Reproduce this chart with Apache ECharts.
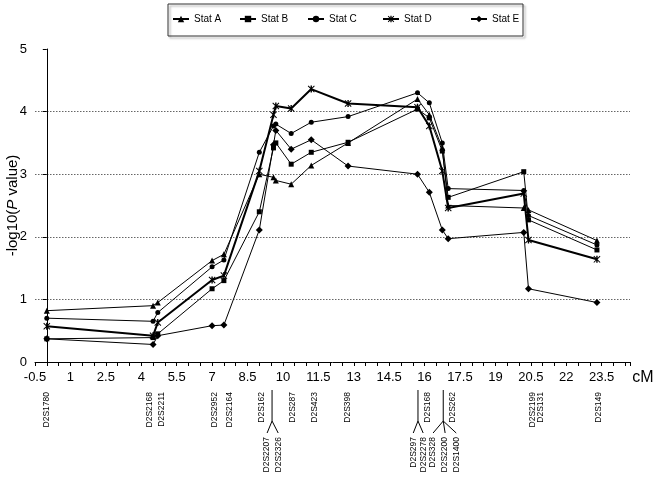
<!DOCTYPE html>
<html><head><meta charset="utf-8">
<script src="https://cdn.jsdelivr.net/npm/echarts@6/dist/echarts.min.js"></script>
<style>html,body{margin:0;padding:0;background:#fff}#c{width:653px;height:477px}</style>
</head><body><div id="c"></div>
<script>
// ---- data ----
const positions = [0, 4.5, 4.7, 7.0, 7.5, 9.0, 9.6, 9.7, 10.35, 11.2, 12.76, 15.7, 16.2, 16.75, 17.0, 20.2, 20.4, 23.3];
const statA = [0.82,0.90,0.95,1.62,1.72,3.00,2.95,2.90,2.84,3.14,3.50,4.20,3.95,3.42,2.50,2.46,2.43,1.94];
const statB = [0.37,0.39,0.45,1.17,1.30,2.40,3.42,3.50,3.16,3.35,3.51,4.04,3.90,3.37,2.63,3.04,2.27,1.79];
const statC = [0.70,0.65,0.79,1.52,1.63,3.35,3.77,3.80,3.65,3.83,3.92,4.30,4.14,3.50,2.77,2.74,2.34,1.87];
const statD = [0.57,0.42,0.63,1.31,1.38,3.05,3.95,4.09,4.05,4.36,4.13,4.07,3.77,3.05,2.46,2.69,1.95,1.64];
const statE = [0.37,0.28,0.42,0.58,0.59,2.11,3.47,3.70,3.40,3.55,3.13,3.00,2.71,2.11,1.97,2.07,1.17,0.95];
const seriesNames = ['Stat A','Stat B','Stat C','Stat D','Stat E'];
const xMin = -0.5, xMax = 24.7, xStep = 1.5;
const yMin = 0, yMax = 5, yStep = 1;
const xUnit = 'cM';
const upperMarkers = ['D2S1780','D2S2168','D2S2211','D2S2952','D2S2164','D2S162','D2S287','D2S423','D2S398','D2S168','D2S262','D2S2199','D2S131','D2S149'];
const upperMarkerPos = [0.01,4.37,4.88,7.13,7.76,9.12,10.43,11.36,12.76,16.11,17.21,20.56,20.9,23.36];
const clusterStems = [9.54, 15.72, 16.79];
const clusterMarkers = [['D2S2207','D2S2326'],['D2S297','D2S2278'],['D2S328','D2S2200','D2S1400']];
const clusterMarkerPos = [[9.33,9.80],[15.52,15.94],[16.36,16.87,17.34]];

// ---- styling ----
const FF = '"Liberation Sans", Arial, sans-serif';
const starPath = 'path://M4,0 L6,0 L6,10 L4,10 Z M0,1 L1,0 L10,9 L9,10 Z M9,0 L10,1 L1,10 L0,9 Z';
const symbols = ['triangle','rect','circle',starPath,'diamond'];
const symSizes = [6,5,5,7,7];
const lineWidths = [1,1,1,2,1];
const allData = [statA, statB, statC, statD, statE];
const legendLeft = [172, 239, 307, 382, 470];

const chart = echarts.init(document.getElementById('c'), null, {renderer:'canvas'});
const option = {
  animation: false,
  backgroundColor: '#fff',
  grid: {left: 35, right: 23, top: 49, bottom: 115, containLabel: false, outerBoundsMode: 'none'},
  legend: seriesNames.map((n,i)=>({
    data:[n], left: legendLeft[i], top: 14, itemWidth: 16, itemHeight: 8,
    selectedMode: false, padding: 0,
    textStyle: {fontSize: 10, fontFamily: FF, color: '#000'}
  })),
  xAxis: {
    type: 'value', min: xMin, max: xMax, interval: xStep,
    axisLine: {show: true, onZero: false, lineStyle: {color: '#000', width: 1}},
    axisTick: {show: true, length: 4, lineStyle: {color: '#000'}},
    minorTick: {show: true, splitNumber: 3, length: 4, lineStyle: {color: '#000'}},
    axisLabel: {fontSize: 13, fontFamily: FF, color: '#000', margin: 9, showMaxLabel: false,
      formatter: v => String(v)},
    splitLine: {show: false}
  },
  yAxis: {
    type: 'value', min: yMin, max: yMax, interval: yStep,
    name: '-log10({i|P} value)', nameLocation: 'middle', nameRotate: 90, nameGap: 15,
    nameMoveOverlap: false,
    nameTextStyle: {fontSize: 15, fontFamily: FF, color: '#000',
      rich: {i: {fontStyle: 'italic', fontSize: 15, fontFamily: FF, color: '#000'}}},
    axisLine: {show: true, lineStyle: {color: '#000', width: 1}},
    axisTick: {show: true, length: 4, lineStyle: {color: '#000'}},
    axisLabel: {fontSize: 13, fontFamily: FF, color: '#000', margin: 8},
    splitLine: {show: true, showMinLine: false, showMaxLine: false,
      lineStyle: {color: '#666', type: [1.5,1.5], width: 1}}
  },
  series: seriesNames.map((n,i)=>({
    name: n, type: 'line',
    data: positions.map((x,j)=>[x, allData[i][j]]),
    symbol: symbols[i], symbolSize: symSizes[i], showAllSymbol: true,
    itemStyle: {color: '#000'},
    lineStyle: {color: '#000', width: lineWidths[i]},
    emphasis: {disabled: true}
  }))
};
chart.setOption(option);

// ---- marker annotations under the axis ----
const px = v => chart.convertToPixel({xAxisIndex: 0}, v);
const g = [];
g.push({type:'rect', shape:{x:168, y:4, width:355, height:32},
  style:{fill:'none', stroke:'#333', lineWidth:1, shadowColor:'rgba(0,0,0,0.35)', shadowBlur:2, shadowOffsetX:2, shadowOffsetY:2}, z:-1, silent:true});
g.push({type:'text', x: px(xMax) + 13, y: 378, silent:true,
  style:{text: xUnit, x:0, y:0, align:'center', verticalAlign:'middle', fontSize: 16, fontFamily: FF, fill:'#000'}});
const upperTop = 392, lowerTop = 437, stemTop = 390, stemBottom = 421, branchBottom = 433;
function vText(x, y, t){
  return {type:'text', x: x, y: y, rotation: Math.PI/2, silent:true,
    style:{text: t, x:0, y:0, align:'right', verticalAlign:'middle', fontSize: 8.5, fontFamily: FF, fill:'#000'}};
}
upperMarkers.forEach((m,i)=> g.push(vText(px(upperMarkerPos[i]), upperTop, m)));
clusterMarkers.forEach((names,k)=>{
  const sx = px(clusterStems[k]);
  g.push({type:'line', shape:{x1:sx, y1:stemTop, x2:sx, y2:stemBottom}, style:{stroke:'#000', lineWidth:1}, silent:true});
  names.forEach((m,j)=>{
    const lx = px(clusterMarkerPos[k][j]);
    g.push({type:'line', shape:{x1:sx, y1:stemBottom, x2:lx, y2:branchBottom}, style:{stroke:'#000', lineWidth:1}, silent:true});
    g.push(vText(lx, lowerTop, m));
  });
});
chart.setOption({graphic: g});
</script></body></html>
